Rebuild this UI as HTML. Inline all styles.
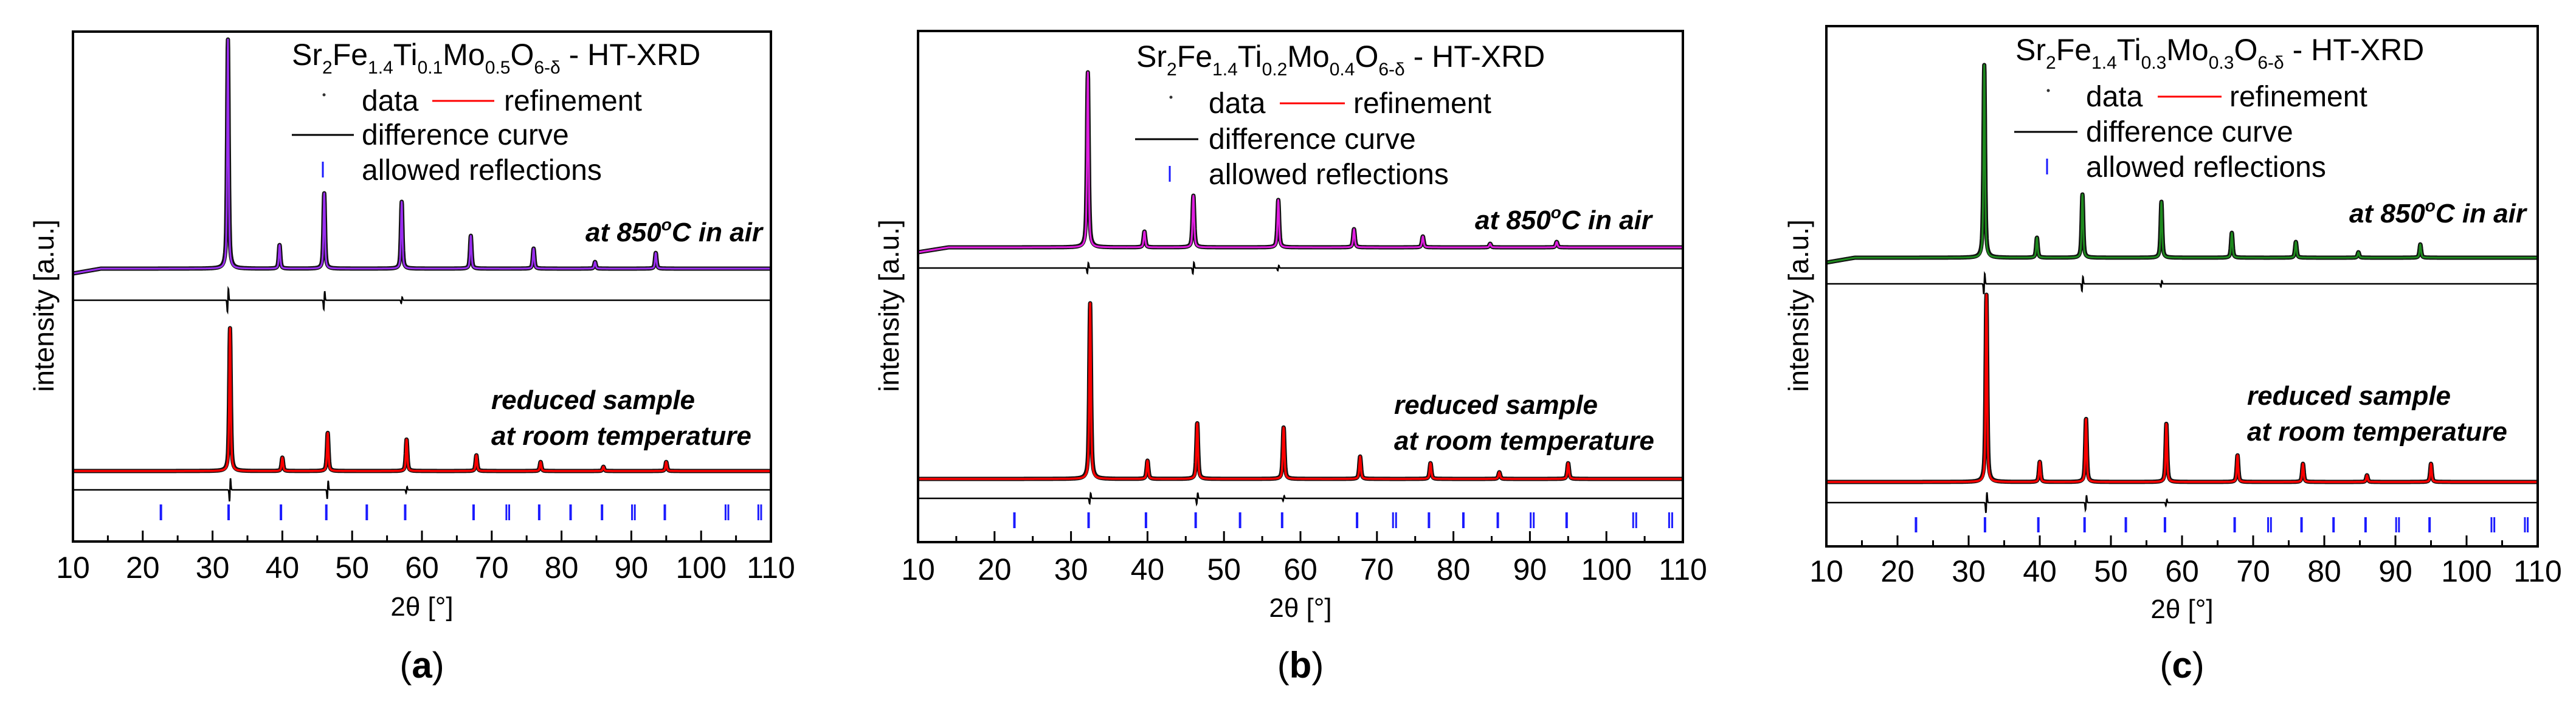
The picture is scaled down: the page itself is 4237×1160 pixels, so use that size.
<!DOCTYPE html>
<html><head><meta charset="utf-8"><style>
html,body{margin:0;padding:0;background:#fff}
svg{display:block}
text{font-family:"Liberation Sans",sans-serif}
</style></head><body>
<svg id="fig" width="4237" height="1160" viewBox="0 0 4237 1160" xmlns="http://www.w3.org/2000/svg"></svg>
<script>
// ---- data ----
const xTicks = [10,20,30,40,50,60,70,80,90,100,110];
const panelLetters = ["a","b","c"];
const compTi = ["0.1","0.2","0.3"];
const compMo = ["0.5","0.4","0.3"];
const airPeaks = [32.2,39.6,46.0,57.1,67.0,76.0,84.8,93.5];
const redPeaks = [32.5,40.0,46.5,57.8,67.8,77.0,86.0,95.0];
const airIntA = [377,39,124,110,54,33,11,26];
const airIntB = [288,26,85,78,30,18,6,9];
const airIntC = [317,33,104,92,41,26,9,22];
const redIntA = [235,22,63,52,26,15,7,15];
const redIntB = [289,30,92,85,37,26,11,26];
const redIntC = [308,33,104,96,44,30,11,30];
const diffPeaks = [32.3,46.2,57.4];
const diffAmpA = [45,35,12];
const diffAmpB = [20,22,10];
const diffAmpC = [40,28,12];
const reflections = [22.6,32.3,39.8,46.3,52.1,57.6,67.4,72.1,72.5,76.8,81.3,85.8,90.1,90.5,94.8,103.5,103.9,108.2,108.6];
const reflTall = [22.6,32.3,39.8,46.3,52.1,57.6,67.4,76.8,81.3,85.8,94.8];

// ---- layout ----
const L = [
 {x0:120,x1:1268,y0:52,y1:891,up:442,d1:494,lo:775,d2:806,rt:830,rb:856,col:"#9a2ef0",ytx:72,tx:480,ty:107,lg:595,rl:[711,813],ref:829,dl:[480,582],ly:[166,222,280],ax:1254,ay:382,rx:808,ry1:658,ry2:717,tl:933,xt:998,pl:1095},
 {x0:1510,x1:2768,y0:51,y1:892,up:407,d1:441,lo:788,d2:820,rt:843,rb:869,col:"#e01ee0",ytx:1462,tx:1869,ty:110,lg:1988,rl:[2105,2212],ref:2226,dl:[1867,1971],ly:[170,229,287],ax:2717,ay:362,rx:2293,ry1:666,ry2:725,tl:936,xt:1000,pl:1095},
 {x0:3004,x1:4174,y0:43,y1:899,up:424,d1:467,lo:793,d2:827,rt:851,rb:876,col:"#1e8a1e",ytx:2958,tx:3315,ty:99,lg:3431,rl:[3549,3654],ref:3667,dl:[3313,3417],ly:[159,217,275],ax:4155,ay:351,rx:3696,ry1:651,ry2:710,tl:939,xt:1002,pl:1095}
];
const airSets=[airIntA,airIntB,airIntC], redSets=[redIntA,redIntB,redIntC], diffSets=[diffAmpA,diffAmpB,diffAmpC];
const NS="http://www.w3.org/2000/svg";
const svg=document.getElementById('fig');
function el(tag,attrs,parent,txt){const e=document.createElementNS(NS,tag);for(const k in attrs)e.setAttribute(k,attrs[k]);if(txt!==undefined)e.textContent=txt;(parent||svg).appendChild(e);return e;}
function profile(x,pos,ints,w){let s=0;for(let i=0;i<pos.length;i++){const d=(x-pos[i])/w;s+=ints[i]*(0.6/(1+d*d)+0.4*Math.exp(-d*d*0.69));}return s;}

L.forEach((p,pi)=>{
  const g=el('g',{});
  
  
  const X=v=>p.x0+(v-10)/100*(p.x1-p.x0);
  const Yup=v=>p.up-v, Ylo=v=>p.lo-v;
  function curve(Y,pos,ints,w,stroke,sw,name,extra){
    let d="";for(let x=10;x<=110.0001;x+=0.03){const v=profile(x,pos,ints,w)+(extra?extra(x):0);d+=(d?"L":"M")+X(x).toFixed(1)+","+Y(v).toFixed(1);}
    const e=el('path',{d:d,fill:'none',stroke:stroke,'stroke-width':sw,'stroke-linejoin':'round'},g);
    
    
  }
  const bgUp=x=>x<14?-(14-x)*2:0;
  curve(Yup,airPeaks,airSets[pi],0.14,'#111',7,'air-data-points',bgUp);
  curve(Yup,airPeaks,airSets[pi],0.12,p.col,3,'air-refinement-curve',bgUp);
  curve(Ylo,redPeaks,redSets[pi],0.14,'#111',7,'reduced-data-points');
  curve(Ylo,redPeaks,redSets[pi],0.12,'#ff0000',3.5,'reduced-refinement-curve');
  // difference curves
  [[p.d1,airPeaks],[p.d2,redPeaks]].forEach((dd,k)=>{
    let d="";const amps=diffSets[pi];
    for(let x=10;x<=110.0001;x+=0.03){let v=0;const pk=[dd[1][0],dd[1][2],dd[1][3]];for(let i=0;i<3;i++){const t=(x-pk[i])/0.1;v+=amps[i]*t*Math.exp(-t*t);}d+=(d?"L":"M")+X(x).toFixed(1)+","+(dd[0]-v).toFixed(1);}
    const e=el('path',{d:d,fill:'none',stroke:'#000','stroke-width':2.5},g);
    
    
  });
  // reflections
  reflections.forEach(r=>{
    const tall=reflTall.includes(r);
    const e=el('line',{x1:X(r),x2:X(r),y1:p.rt,y2:p.rb,stroke:'#1a1aff','stroke-width':tall?4:3},g);
    
    
  });
  // frame
  const fr=el('rect',{x:p.x0,y:p.y0,width:p.x1-p.x0,height:p.y1-p.y0,fill:'none',stroke:'#000','stroke-width':4},g);
  
  
  // x ticks
  for(let v=10;v<=110;v+=5){
    const major=v%10===0;
    const t=el('line',{x1:X(v),x2:X(v),y1:p.y1,y2:p.y1-(major?18:10),stroke:'#000','stroke-width':3},g);
    
    
  }
  xTicks.forEach(v=>{
    const t=el('text',{x:X(v),y:p.tl+18,'font-size':50,'text-anchor':'middle'},g,String(v));
    
    
  });
  const xt=el('text',{x:(p.x0+p.x1)/2,y:p.xt+15,'font-size':44,'text-anchor':'middle'},g,'2θ [°]');
  
  
  const yt=el('text',{x:0,y:0,'font-size':46,'text-anchor':'middle',transform:`translate(${p.ytx+16},503) rotate(-90)`},g,'intensity [a.u.]');
  
  
  // title
  const tt=el('text',{x:p.tx,y:p.ty,'font-size':50},g);
  
  
  const parts=[["Sr",0],["2",1],["Fe",0],["1.4",1],["Ti",0],[compTi[pi],1],["Mo",0],[compMo[pi],1],["O",0],["6-δ",1],[" - HT-XRD",0]];
  parts.forEach(pt=>{const s=el('tspan',pt[1]?{'font-size':30,dy:14}:{dy:0},tt,pt[0]);if(!pt[1]&&tt.childNodes.length>1)s.setAttribute('dy',-14);});
  // legend
  const lg=el('g',{},g);
  
  
  el('circle',{cx:p.lg-62,cy:p.ly[0]-10,r:2.5,fill:'#333'},lg);
  el('text',{x:p.lg,y:p.ly[0]+16,'font-size':48},lg,'data');
  el('line',{x1:p.rl[0],x2:p.rl[1],y1:p.ly[0],y2:p.ly[0],stroke:'#ff0000','stroke-width':3},lg);
  el('text',{x:p.ref,y:p.ly[0]+16,'font-size':48},lg,'refinement');
  el('line',{x1:p.dl[0],x2:p.dl[1],y1:p.ly[1],y2:p.ly[1],stroke:'#000','stroke-width':3},lg);
  el('text',{x:p.lg,y:p.ly[1]+16,'font-size':48},lg,'difference curve');
  el('line',{x1:p.lg-64,x2:p.lg-64,y1:p.ly[2]-14,y2:p.ly[2]+12,stroke:'#1a1aff','stroke-width':3},lg);
  el('text',{x:p.lg,y:p.ly[2]+16,'font-size':48},lg,'allowed reflections');
  // annotations
  const a1=el('text',{x:p.ax,y:p.ay+15,'font-size':44,'font-weight':'bold','font-style':'italic','text-anchor':'end'},g);
  
  
  el('tspan',{},a1,'at 850');el('tspan',{'font-size':28,dy:-18},a1,'o');el('tspan',{dy:18},a1,'C in air');
  const a2=el('text',{x:p.rx,y:p.ry1+15,'font-size':44,'font-weight':'bold','font-style':'italic'},g,'reduced sample');
  
  
  const a3=el('text',{x:p.rx,y:p.ry2+15,'font-size':44,'font-weight':'bold','font-style':'italic'},g,'at room temperature');
  
  
  const pl=el('text',{x:(p.x0+p.x1)/2,y:p.pl+20,'font-size':60,'text-anchor':'middle','font-family':'Liberation Serif, serif'},g);
  
  
  el('tspan',{},pl,'(');el('tspan',{'font-weight':'bold'},pl,panelLetters[pi]);el('tspan',{},pl,')');
});
</script>
</body></html>
